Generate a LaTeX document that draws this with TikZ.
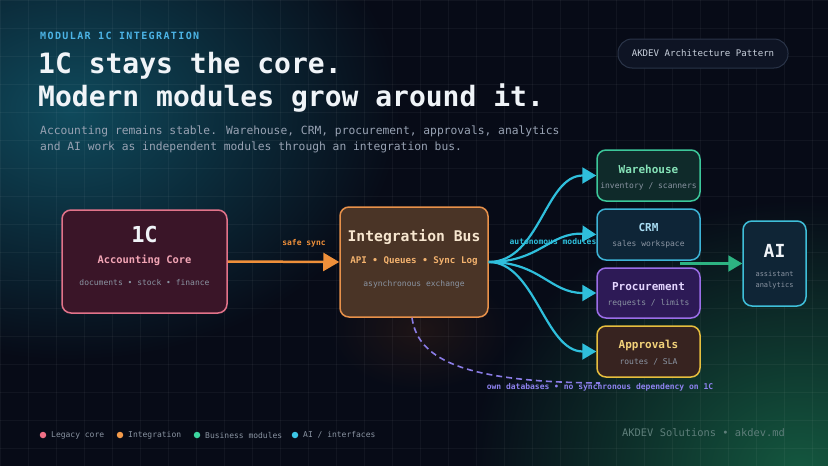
\documentclass[tikz,border=0pt]{standalone}
\usepackage{fontspec}
\setmainfont{DejaVu Sans Mono}
\usetikzlibrary{arrows.meta}
\definecolor{bg}{HTML}{070B17}
\definecolor{glowteal}{HTML}{0F4A5C}
\definecolor{glowgreen}{HTML}{14573F}
\definecolor{glowwarm}{HTML}{1E1416}
\definecolor{titlec}{HTML}{F0F4F8}
\definecolor{subc}{HTML}{98A2B3}
\definecolor{kicker}{HTML}{4CB4E6}
\definecolor{grayt}{HTML}{8A94A2}
\definecolor{corefill}{HTML}{3A1528}
\definecolor{coreline}{HTML}{E2738A}
\definecolor{corepink}{HTML}{F2A5B5}
\definecolor{busfill}{HTML}{4A3426}
\definecolor{busline}{HTML}{E8914A}
\definecolor{buscream}{HTML}{F7E6CF}
\definecolor{busorange}{HTML}{F3B26E}
\definecolor{orangearr}{HTML}{EE8F3A}
\definecolor{whfill}{HTML}{0F2A2A}
\definecolor{whline}{HTML}{3CC79A}
\definecolor{whtext}{HTML}{86E3B8}
\definecolor{crmfill}{HTML}{0E2537}
\definecolor{crmline}{HTML}{3DB3D6}
\definecolor{crmtext}{HTML}{A8DCF2}
\definecolor{procfill}{HTML}{2D1A56}
\definecolor{procline}{HTML}{9B6EE8}
\definecolor{proctext}{HTML}{E4D6FF}
\definecolor{apfill}{HTML}{372320}
\definecolor{apline}{HTML}{E6BE3E}
\definecolor{aptext}{HTML}{F2D27A}
\definecolor{aifill}{HTML}{0F2536}
\definecolor{ailine}{HTML}{3FBFD9}
\definecolor{cyanarr}{HTML}{2FBFDC}
\definecolor{greenarr}{HTML}{2DB382}
\definecolor{purpled}{HTML}{8A7CE6}
\definecolor{purplet}{HTML}{8E82F0}
\definecolor{pillfill}{HTML}{0E1424}
\definecolor{pillline}{HTML}{2A3448}
\definecolor{pilltext}{HTML}{C9D1DD}
\definecolor{footc}{HTML}{5E7E7A}
\definecolor{legpink}{HTML}{F06F86}
\definecolor{legorange}{HTML}{F39A4A}
\definecolor{leggreen}{HTML}{3CD6A0}
\definecolor{legcyan}{HTML}{3CC6E6}
\tikzset{
  card/.style={draw, line width=1.5pt, rounded corners=9pt, inner sep=0pt},
  lbl/.style={inner sep=0pt, anchor=center},
  boxtitle/.style={lbl, font=\fontsize{11}{13}\selectfont\bfseries},
  boxsub/.style={lbl, text=grayt, font=\fontsize{8}{10}\selectfont},
  cyanarrow/.style={draw=cyanarr, line width=2.2pt, -{Triangle[length=14pt,width=16pt]}},
  legdot/.style={circle, inner sep=0pt, minimum size=6.5pt},
  legtext/.style={inner sep=0pt, anchor=west, text=grayt, font=\fontsize{8}{10}\selectfont},
}
\begin{document}
\begin{tikzpicture}[x=1pt,y=-1pt]
\useasboundingbox (0,0) rectangle (828,466);
\fill[bg] (0,0) rectangle (828,466);
% glows
\shade[inner color=glowteal, outer color=bg] (70,110) ellipse [x radius=330, y radius=250];
\shade[inner color=glowgreen, outer color=bg] (800,470) ellipse [x radius=330, y radius=270];
\shade[inner color=glowwarm, outer color=bg] (420,330) ellipse [x radius=90, y radius=60];
% grid
\begin{scope}
\clip (0,0) rectangle (828,466);
\foreach \gx in {0,28,...,840} {\draw[white, opacity=0.045, line width=0.6pt] (\gx,0) -- (\gx,466);}
\foreach \gy in {0,28,...,470} {\draw[white, opacity=0.045, line width=0.6pt] (0,\gy) -- (828,\gy);}
\end{scope}

% header
\node[inner sep=0pt, anchor=west, text=kicker, font=\fontsize{10}{12}\selectfont\bfseries\addfontfeatures{LetterSpace=14}] (kick) at (40,36) {MODULAR 1C INTEGRATION};
\node[inner sep=0pt, anchor=west, text=titlec, font=\fontsize{28}{32}\selectfont\bfseries] (t1) at (38,66) {1C stays the core.};
\node[inner sep=0pt, anchor=west, text=titlec, font=\fontsize{28}{32}\selectfont\bfseries] (t2) at (38,98) {Modern modules grow around it.};
\node[inner sep=0pt, anchor=west, text=subc, font=\fontsize{11.3}{14}\selectfont] (s1) at (40,131) {Accounting remains stable. Warehouse, CRM, procurement, approvals, analytics};
\node[inner sep=0pt, anchor=west, text=subc, font=\fontsize{11.3}{14}\selectfont] (s2) at (40,147) {and AI work as independent modules through an integration bus.};

% pill
\node[draw=pillline, fill=pillfill, line width=1pt, rounded corners=14pt, minimum width=170pt, minimum height=29pt, inner sep=0pt] (pill) at (703,53.5) {};
\node[lbl, text=pilltext, font=\fontsize{9.1}{11}\selectfont] (pillt) at (pill.center) {AKDEV Architecture Pattern};

% core
\node[card, draw=coreline, fill=corefill, minimum width=165pt, minimum height=103pt] (core) at (144.5,261.5) {};
\node[lbl, text=titlec, font=\fontsize{22}{24}\selectfont\bfseries] (coret) at (144.5,234) {1C};
\node[lbl, text=corepink, font=\fontsize{10.4}{12}\selectfont\bfseries] (corea) at (144.5,260) {Accounting Core};
\node[boxsub] (cored) at (144.5,283) {documents • stock • finance};

% bus
\node[card, draw=busline, fill=busfill, minimum width=148pt, minimum height=110pt] (bus) at (414,262) {};
\node[lbl, text=buscream, font=\fontsize{14.7}{17}\selectfont\bfseries] (bust) at (414,237) {Integration Bus};
\node[lbl, text=busorange, font=\fontsize{9.2}{11}\selectfont\bfseries] (busa) at (414,261) {API • Queues • Sync Log};
\node[boxsub] (busd) at (414,284) {asynchronous exchange};

% modules
\node[card, draw=whline, fill=whfill, minimum width=103pt, minimum height=51pt] (wh) at (648.5,175.5) {};
\node[boxtitle, text=whtext] (wht) at (648.5,169) {Warehouse};
\node[boxsub] (whs) at (648.5,186) {inventory / scanners};

\node[card, draw=crmline, fill=crmfill, minimum width=103pt, minimum height=51pt] (crm) at (648.5,234.5) {};
\node[boxtitle, text=crmtext] (crmt) at (648.5,227.5) {CRM};
\node[boxsub] (crms) at (648.5,244.5) {sales workspace};

\node[card, draw=procline, fill=procfill, minimum width=103pt, minimum height=50pt] (proc) at (648.5,293) {};
\node[boxtitle, text=proctext] (proct) at (648.5,286.5) {Procurement};
\node[boxsub] (procs) at (648.5,303.5) {requests / limits};

\node[card, draw=apline, fill=apfill, minimum width=103pt, minimum height=51pt] (appr) at (648.5,351.5) {};
\node[boxtitle, text=aptext] (apprt) at (648.5,345) {Approvals};
\node[boxsub] (apprs) at (648.5,362) {routes / SLA};

% AI
\node[card, draw=ailine, fill=aifill, minimum width=63pt, minimum height=85pt] (ai) at (774.5,263.5) {};
\node[lbl, text=titlec, font=\fontsize{18}{20}\selectfont\bfseries] (ait) at (774.5,251) {AI};
\node[lbl, text=grayt, font=\fontsize{7}{8}\selectfont] (ais1) at (774.5,274) {assistant};
\node[lbl, text=grayt, font=\fontsize{7}{8}\selectfont] (ais2) at (774.5,286) {analytics};

% connectors
\draw[draw=orangearr, line width=2.5pt, -{Triangle[length=16pt,width=18pt]}] (core.east) -- (bus.west);
\node[lbl, text=orangearr, font=\fontsize{8}{10}\selectfont\bfseries] (safe) at (304,243) {safe sync};

\draw[cyanarrow] (bus.east) .. controls (540,262) and (545,175.5) .. (wh.west);
\draw[cyanarrow] (bus.east) .. controls (540,262) and (550,232) .. (crm.west);
\draw[cyanarrow] (bus.east) .. controls (540,262) and (550,293) .. (proc.west);
\draw[cyanarrow] (bus.east) .. controls (535,262) and (545,351.5) .. (appr.west);
\node[lbl, text=cyanarr, font=\fontsize{8}{10}\selectfont\bfseries] (auto) at (553,242) {autonomous modules};

\coordinate (gstart) at (680,263.5);
\draw[draw=greenarr, line width=2.2pt, -{Triangle[length=14pt,width=16pt]}] (gstart) -- (ai.west);

\coordinate (dend) at (600,383);
\draw[draw=purpled, line width=1.6pt, dash pattern=on 6pt off 4pt] ([xshift=-2pt]bus.south) .. controls (418,362) and (470,382) .. (dend);
\node[lbl, text=purplet, font=\fontsize{8}{10}\selectfont\bfseries] (own) at (600,387.5) {own databases • no synchronous dependency on 1C};

% legend
\node[legdot, fill=legpink] (d1) at (43,435) {};
\node[legtext] (l1) at (51,435) {Legacy core};
\node[legdot, fill=legorange] (d2) at (120,435) {};
\node[legtext] (l2) at (128,435) {Integration};
\node[legdot, fill=leggreen] (d3) at (197,435) {};
\node[legtext] (l3) at (205,435) {Business modules};
\node[legdot, fill=legcyan] (d4) at (295,435) {};
\node[legtext] (l4) at (303,435) {AI / interfaces};
\node[inner sep=0pt, anchor=west, text=footc, font=\fontsize{10.4}{12}\selectfont] (foot) at (622,433) {AKDEV Solutions • akdev.md};
\end{tikzpicture}
\end{document}
